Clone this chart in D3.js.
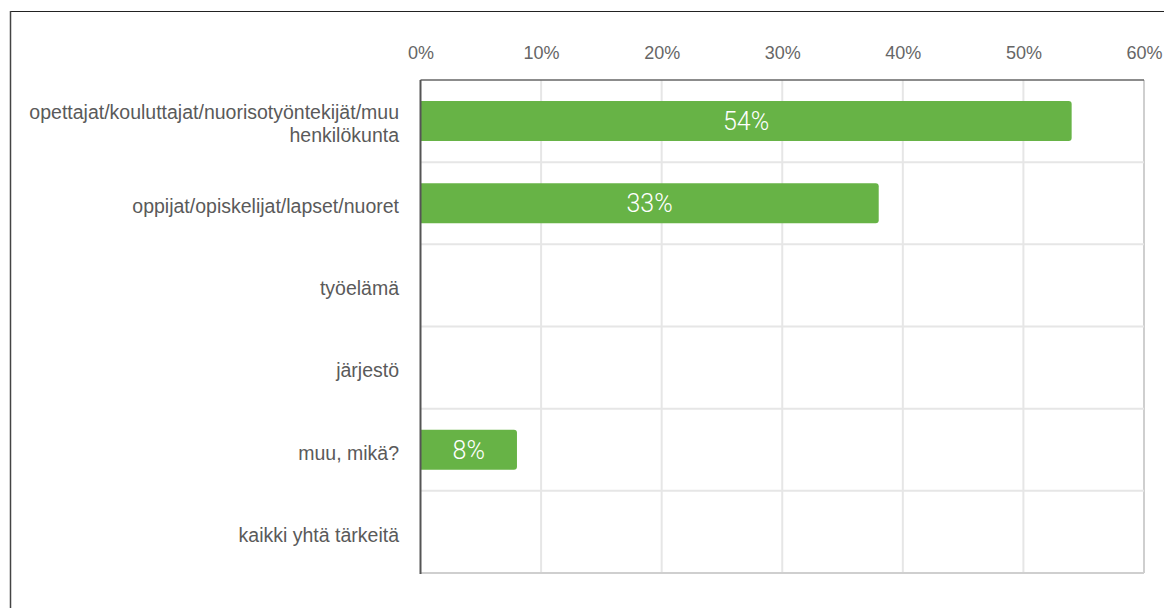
<!DOCTYPE html>
<html>
<head>
<meta charset="utf-8">
<script src="https://cdn.jsdelivr.net/npm/d3@7"></script>
<style>
  html, body { margin: 0; padding: 0; background: #fff; }
  svg { display: block; }
</style>
</head>
<body>
<svg id="chart" width="1164" height="608"></svg>
<script>
const categories = [
  ["opettajat/kouluttajat/nuorisotyöntekijät/muu", "henkilökunta"],
  ["oppijat/opiskelijat/lapset/nuoret"],
  ["työelämä"],
  ["järjestö"],
  ["muu, mikä?"],
  ["kaikki yhtä tärkeitä"]
];
const values = [54, 38, 0, 0, 8, 0];
const valueLabels = ["54%", "33%", "", "", "8%", ""];
const tickValues = [0, 10, 20, 30, 40, 50, 60];

const svg = d3.select("#chart");
const W = 1164, H = 608;

// outer frame
svg.append("line").attr("x1", 10).attr("x2", W).attr("y1", 11.5).attr("y2", 11.5)
  .attr("stroke", "#222").attr("stroke-width", 1.2);
svg.append("line").attr("x1", 10.5).attr("x2", 10.5).attr("y1", 11).attr("y2", H)
  .attr("stroke", "#444").attr("stroke-width", 1.5);

const x = d3.scaleLinear().domain([0, 60]).range([420.5, 1144]);
const yBand = d3.scaleBand().domain(d3.range(categories.length)).range([80, 573]);

const g = svg.append("g");

// vertical gridlines
g.selectAll(".vgrid").data(tickValues.slice(1)).join("line")
  .attr("x1", d => x(d)).attr("x2", d => x(d))
  .attr("y1", 80).attr("y2", 573)
  .attr("stroke", d => d === 60 ? "#cfcfcf" : "#e6e6e6").attr("stroke-width", 2);

// horizontal gridlines
g.selectAll(".hgrid").data(d3.range(1, categories.length)).join("line")
  .attr("x1", x(0)).attr("x2", x(60))
  .attr("y1", d => yBand(d)).attr("y2", d => yBand(d))
  .attr("stroke", "#e6e6e6").attr("stroke-width", 2);

// bottom line
g.append("line").attr("x1", x(0)).attr("x2", x(60)).attr("y1", 573).attr("y2", 573)
  .attr("stroke", "#cfcfcf").attr("stroke-width", 2);
// top line
g.append("line").attr("x1", x(0)).attr("x2", x(60)).attr("y1", 80).attr("y2", 80)
  .attr("stroke", "#666").attr("stroke-width", 1.5);

// top axis labels
const axis = d3.axisTop(x).tickValues(tickValues).tickFormat(d => d + "%").tickSize(0).tickPadding(0);
const ax = svg.append("g").attr("transform", "translate(0,59)").call(axis);
ax.select(".domain").remove();
ax.selectAll("text").attr("font-family", "'Liberation Sans', Arial, sans-serif")
  .attr("font-size", 18).attr("fill", "#666");

// bars
const barH = 40;
function barPath(x0, x1, yc, h, r) {
  const yt = yc - h / 2, yb = yc + h / 2;
  r = Math.min(r, (x1 - x0));
  return `M${x0},${yt}H${x1 - r}Q${x1},${yt} ${x1},${yt + r}V${yb - r}Q${x1},${yb} ${x1 - r},${yb}H${x0}Z`;
}
g.selectAll(".bar").data(values.map((v, i) => ({ v, i }))).join("path")
  .filter(d => d.v > 0)
  .attr("d", d => barPath(x(0), x(d.v), yBand(d.i) + yBand.bandwidth() / 2, barH, 3))
  .attr("fill", "#67b346");

// left axis line
g.append("line").attr("x1", x(0)).attr("x2", x(0)).attr("y1", 80).attr("y2", 574)
  .attr("stroke", "#555").attr("stroke-width", 2);

// value labels
g.selectAll(".vlabel").data(values.map((v, i) => ({ v, i, t: valueLabels[i] }))).join("text")
  .filter(d => d.t)
  .attr("x", d => (x(0) + x(d.v)) / 2)
  .attr("y", d => yBand(d.i) + yBand.bandwidth() / 2)
  .attr("dy", "0.36em")
  .attr("text-anchor", "middle")
  .attr("font-family", "Roboto, sans-serif").attr("font-weight", 300)
  .attr("font-size", 25).attr("fill", "#fff")
  .text(d => d.t);

// category labels
const cl = svg.selectAll(".cat").data(categories.map((c, i) => ({ c, i }))).join("text")
  .attr("text-anchor", "end")
  .attr("font-family", "'Liberation Sans', Arial, sans-serif")
  .attr("font-size", 19.5).attr("fill", "#5a5a5a")
  .attr("transform", d => `translate(399,${yBand(d.i) + yBand.bandwidth() / 2 + 3})`);
cl.each(function(d) {
  const n = d.c.length;
  const lh = 23;
  d3.select(this).selectAll("tspan").data(d.c).join("tspan")
    .attr("x", 0)
    .attr("y", (t, j) => (j - (n - 1) / 2) * lh)
    .attr("dy", "0.35em")
    .text(t => t);
});
</script>
</body>
</html>
